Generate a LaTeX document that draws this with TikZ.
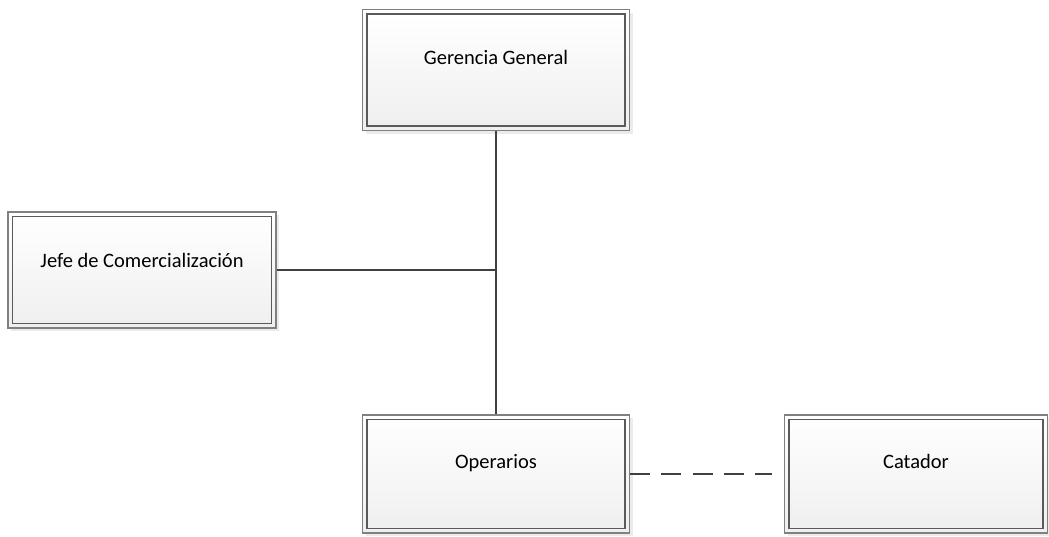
\documentclass[tikz,border=0pt]{standalone}
\usepackage{fontspec}
\setmainfont{Carlito}
\usetikzlibrary{shadows}
\definecolor{boxline}{HTML}{808080}
\definecolor{innerline}{HTML}{5A5A5A}
\definecolor{wire}{HTML}{404040}
\definecolor{boxbottom}{HTML}{EFEFEF}
\begin{document}
\begin{tikzpicture}[x=1pt,y=-1pt,
  orgbox/.style={draw=boxline, line width=1.2pt, rectangle,
    top color=white, bottom color=boxbottom,
    drop shadow={shadow xshift=3pt, shadow yshift=-3pt, fill=black!8, opacity=1},
    font=\fontsize{20.5}{24}\selectfont, text=black,
    inner sep=0pt, text height=12pt,
    path picture={\draw[innerline, line width=1.2pt]
      ([xshift=4.5pt,yshift=-4.5pt]path picture bounding box.north west)
      rectangle ([xshift=-4.5pt,yshift=4.5pt]path picture bounding box.south east);}},
  wireline/.style={draw=wire, line width=2pt}]
\useasboundingbox (0,0) rectangle (1049,536);
% boxes
\node[orgbox, minimum width=267pt, minimum height=121pt, text depth=24pt] (gg) at (496,70) {Gerencia General};
\node[orgbox, minimum width=268pt, minimum height=116pt, text depth=17pt] (jc) at (142,270) {Jefe de Comercialización};
\node[orgbox, minimum width=267pt, minimum height=118pt, text depth=23pt] (op) at (496,474) {Operarios};
\node[orgbox, minimum width=263pt, minimum height=118pt, text depth=23pt] (ca) at (916,474) {Catador};
% connectors
\coordinate (j) at (gg.south |- jc.east);
\draw[wireline] (gg.south) -- (op.north);
\draw[wireline] (jc.east) -- (j);
\draw[wireline, dash pattern=on 20pt off 11.25pt] (op.east) -- ([xshift=-12pt]ca.west);
\end{tikzpicture}
\end{document}
